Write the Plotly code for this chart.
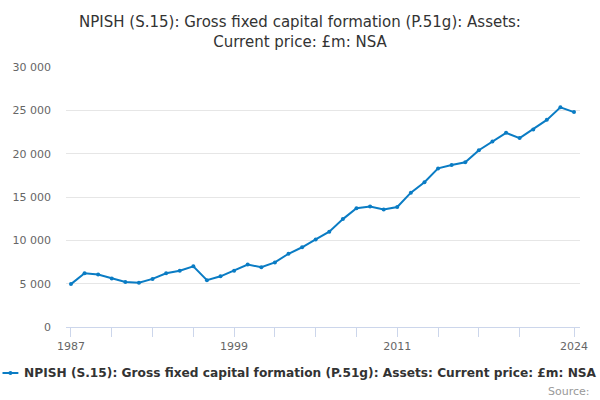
import plotly.graph_objects as go

years = list(range(1987, 2025))
values = [4950, 6200, 6050, 5600, 5200, 5100, 5550, 6200, 6500, 7000,
          5400, 5850, 6500, 7200, 6900, 7450, 8450, 9200, 10100, 11000,
          12450, 13700, 13900, 13550, 13850, 15500, 16700, 18300, 18700, 19000,
          20400, 21400, 22400, 21800, 22800, 23900, 25350, 24800]

tick_years = [1987, 1990, 1993, 1996, 1999, 2002, 2005, 2008, 2011, 2014, 2017, 2020, 2024]
tick_labels = ["1987", "", "", "", "1999", "", "", "", "2011", "", "", "", "2024"]

series_name = "NPISH (S.15): Gross fixed capital formation (P.51g): Assets: Current price: £m: NSA"
title_text = "NPISH (S.15): Gross fixed capital formation (P.51g): Assets:<br>Current price: £m: NSA"
color = "#0a7cc4"

fig = go.Figure()
fig.add_trace(go.Scatter(
    x=years, y=values, mode="lines+markers", name=series_name,
    line=dict(color=color, width=2), marker=dict(color=color, size=4),
    showlegend=False,
))

W, H = 600, 400
L, R, T, B = 65, 17, 67, 73

fig.update_layout(
    width=W, height=H,
    margin=dict(l=L, r=R, t=T, b=B),
    paper_bgcolor="white", plot_bgcolor="white",
    font=dict(family="DejaVu Sans", size=11, color="#666666"),
    separators=". ",
    title=dict(text=title_text, x=0.5, xanchor="center", y=1 - 27 / H, yanchor="middle",
               font=dict(family="DejaVu Sans", size=15, color="#333333")),
    xaxis=dict(range=[1986.635, 2024.44], tickmode="array", tickvals=tick_years,
               ticktext=tick_labels, showgrid=False, zeroline=False,
               showline=True, linecolor="#ccd6eb", linewidth=1,
               ticks="outside", ticklen=9, tickcolor="#ccd6eb", tickwidth=1,
               tickfont=dict(size=11, color="#666666")),
    yaxis=dict(range=[0, 30000], dtick=5000, tickformat=",d", showgrid=True,
               gridcolor="#e6e6e6", gridwidth=1, zeroline=False, showline=False,
               ticks="", ticklabelstandoff=14,
               tickfont=dict(size=11, color="#666666")),
)

# legend (drawn as annotation + symbol)
ly = 373
fig.add_shape(type="line", xref="paper", yref="paper",
              x0=(1 - L) / (W - L - R), x1=(17 - L) / (W - L - R),
              y0=(H - B - ly) / (H - T - B), y1=(H - B - ly) / (H - T - B),
              line=dict(color=color, width=2))
fig.add_shape(type="circle", xref="paper", yref="paper",
              x0=(7 - L) / (W - L - R), x1=(11 - L) / (W - L - R),
              y0=(H - B - ly - 2) / (H - T - B), y1=(H - B - ly + 2) / (H - T - B),
              fillcolor=color, line=dict(color=color, width=0))
fig.add_annotation(text="<b>" + series_name + "</b>", xref="paper", yref="paper",
                   x=(21 - L) / (W - L - R), y=(H - B - ly) / (H - T - B),
                   xanchor="left", yanchor="middle", showarrow=False,
                   font=dict(family="DejaVu Sans", size=12.2, color="#333333"))
fig.add_annotation(text="Source:", xref="paper", yref="paper",
                   x=(595 - L) / (W - L - R), y=(H - B - 391) / (H - T - B),
                   xanchor="right", yanchor="middle", showarrow=False,
                   font=dict(family="DejaVu Sans", size=11, color="#999999"))

fig.write_html("out.html", config={"displayModeBar": False},
               post_script="document.body.style.margin='0px';")
